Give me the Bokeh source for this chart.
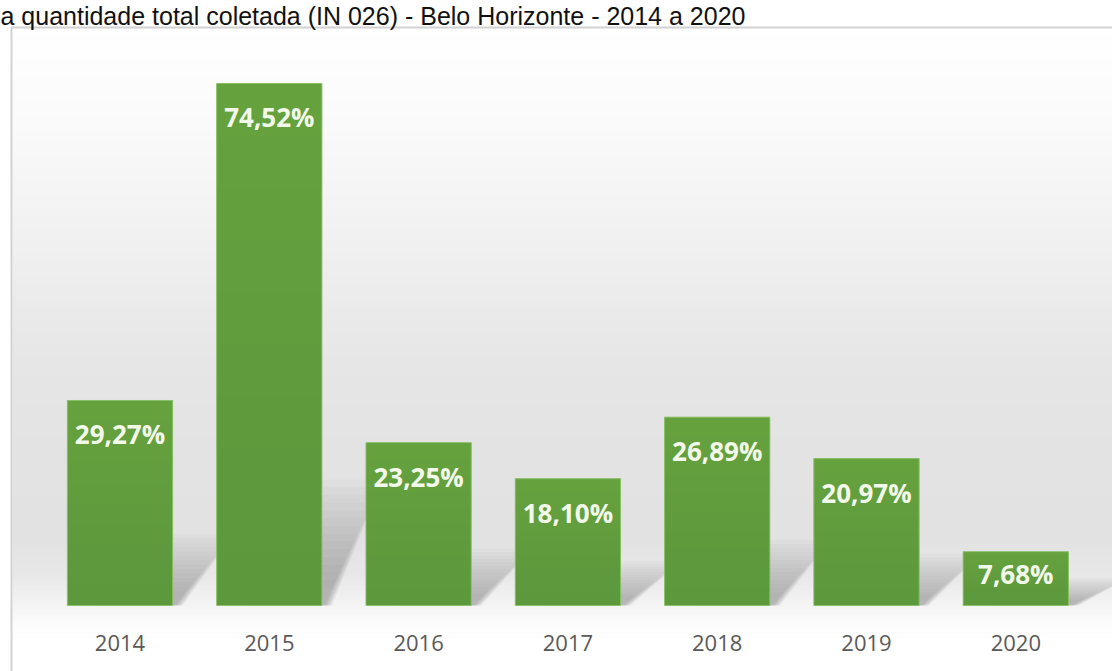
import numpy as np
from bokeh.plotting import figure
from bokeh.models import Range1d, Label
from bokeh.core.properties import value
from bokeh.embed import file_html
from bokeh.resources import INLINE

# Share of the total collected quantity (IN 026), Belo Horizonte
years = [2014, 2015, 2016, 2017, 2018, 2019, 2020]
shares = [29.27, 74.52, 23.25, 18.10, 26.89, 20.97, 7.68]
year_labels = [str(y) for y in years]
value_labels = [f"{v:.2f}".replace(".", ",") + "%" for v in shares]
title_text = "a quantidade total coletada (IN 026) - Belo Horizonte - 2014 a 2020"

W, H = 1112, 671
X_STEP = 149.3        # pixels per year
FIRST_CENTER = 119.5  # pixel centre of the first bar
Y_UNIT = 7.005        # pixels per percentage point
BASE_PX = 605         # pixel row of the bar baseline
BAR_W = 0.705
BOX_TOP = 27          # pixel row of the chart box top edge

x0 = years[0] - FIRST_CENTER / X_STEP


def px_x(px):
    return x0 + px / X_STEP


def px_y(py):
    return (BASE_PX - py) / Y_UNIT


p = figure(width=W, height=H, output_backend="svg", toolbar_location=None,
           x_range=Range1d(x0, x0 + W / X_STEP),
           y_range=Range1d(px_y(H), px_y(0)),
           min_border=0, min_border_left=0, min_border_right=0,
           min_border_top=0, min_border_bottom=0)
p.axis.visible = False
p.grid.visible = False
p.outline_line_color = None
p.background_fill_color = "white"
p.border_fill_color = "white"

# soft vertical gradient inside the chart box
stops_px = [BOX_TOP, 110, 200, 290, 360, 450, 540, 575, 600, 620, 640, 700]
stops_lv = [255, 251, 244, 236, 230, 227, 226, 232, 242, 251, 255, 255]
step = 3
rows = np.arange(BOX_TOP, H + step, step)
levels = np.interp(rows + step / 2, stops_px, stops_lv).round().astype(int)
colors = ["#{0:02x}{0:02x}{0:02x}".format(l) for l in levels]
p.quad(left=[px_x(12)] * len(rows), right=[px_x(W + 20)] * len(rows),
       top=[px_y(r) for r in rows], bottom=[px_y(r + step + 0.5) for r in rows],
       fill_color=colors, line_color=None)

# blurred cast shadows behind the bars, built from many faint layers
n_layers = 14
for k in range(n_layers):
    t = k / (n_layers - 1)          # 0 = widest / faintest, 1 = tightest
    scale = 1.0 - 0.8 * t
    xs, ys = [], []
    for x, v in zip(years, shares):
        hs = float(np.clip(0.35 * v, 4, 18)) * scale
        dx = 0.34 * scale
        spread = 0.05 * (1 - t)
        xl = x - BAR_W / 2 + 0.3 * BAR_W
        xr = x + BAR_W / 2 + 0.02 + spread
        xs.append([xl, xr, xr + dx, xl + dx])
        ys.append([0, 0, hs, hs])
    p.patches(xs=xs, ys=ys, fill_color="#4a4a4a", fill_alpha=0.028, line_color=None)

# bars with a lighter top
p.vbar(x=years, top=shares, bottom=0, width=BAR_W, fill_color="#5a973b", line_color=None)
for k in range(1, 11):
    frac = k / 10
    p.vbar(x=years, top=shares, bottom=[v * (1 - frac) for v in shares], width=BAR_W,
           fill_color="#7abb50", fill_alpha=0.065, line_color=None)
p.vbar(x=years, top=shares, bottom=0, width=BAR_W, fill_color=None,
       line_color="#88c066", line_width=1, line_alpha=0.9)

# value labels inside the bars
label_y = [v - min(34.0, 0.42 * v * Y_UNIT) / Y_UNIT for v in shares]
p.text(x=years, y=label_y, text=value_labels, text_align="center", text_baseline="middle",
       text_font=value("Open Sans"), text_font_style="bold", text_font_size="26px",
       text_color="#f3f9ea")

# category labels under the bars
p.text(x=years, y=[px_y(642)] * len(years), text=year_labels, text_align="center",
       text_baseline="middle", text_font=value("Open Sans"), text_font_size="22px",
       text_color="#595959")

# chart box border
p.quad(left=[px_x(11)], right=[px_x(W + 30)], top=[px_y(BOX_TOP)], bottom=[px_y(H + 30)],
       fill_color=None, line_color="#d2d2d2", line_width=2)

p.add_layout(Label(x=px_x(0), y=px_y(1), text=title_text, text_font="Liberation Sans",
                   text_font_size="25px", text_color="#111111", text_baseline="top"))

open("out.html", "w").write(file_html(p, INLINE))
